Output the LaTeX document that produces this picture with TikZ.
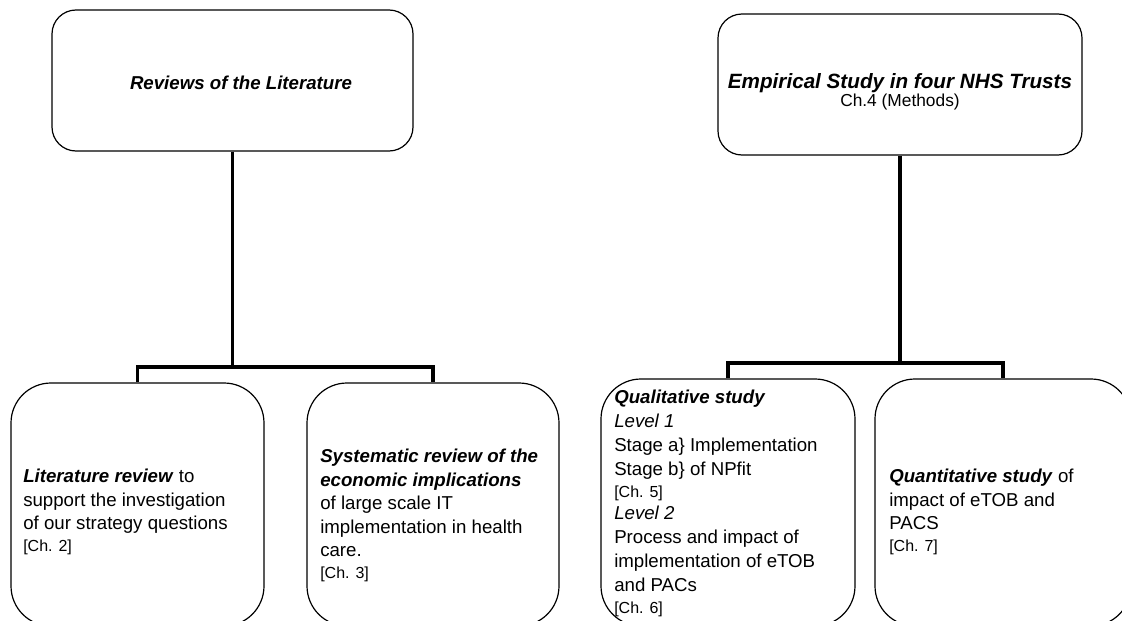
\documentclass[tikz,border=0pt]{standalone}
\usepackage{fontspec}
\setmainfont{Liberation Sans}
\usetikzlibrary{fit}
\newcommand{\bi}[1]{\textbf{\textit{#1}}}
\newcommand{\chf}{\fontsize{12}{16}\selectfont}
\begin{document}
\begin{tikzpicture}[x=0.75pt,y=-0.75pt,
  topbox/.style={draw,line width=0.9pt,rounded corners=18pt,inner sep=0pt},
  lowbox/.style={draw,line width=0.9pt,rounded corners=30pt,inner sep=0pt},
  conn/.style={line width=2.3pt},
  body/.style={inner sep=0pt,align=left,anchor=north west,font=\fontsize{14}{17.6}\selectfont}]
\useasboundingbox (0,0) rectangle (1122,621);
% top boxes
\node[topbox,fit={(52,10)(413,151)}] (tl) {};
\node[topbox,fit={(718,14)(1082,155)}] (tr) {};
% bottom boxes
\node[lowbox,fit={(11,383)(264,626)}] (b1) {};
\node[lowbox,fit={(307,383)(559,626)}] (b2) {};
\node[lowbox,fit={(601,379)(855,626)}] (b3) {};
\node[lowbox,fit={(875,379)(1131,626)}] (b4) {};
% junctions
\coordinate (jl) at (232.5,367);
\coordinate (jr) at (900,363);
\draw[conn] (tl.south) -- (jl);
\draw[conn] (b1.north) |- (jl) -| (b2.north);
\draw[conn] (tr.south) -- (jr);
\draw[conn] (b3.north) |- (jr) -| (b4.north);
% texts
\node[inner sep=0pt,font=\fontsize{14}{18}\selectfont] (tlt) at (241,83) {\bi{Reviews of the Literature}};
\node[inner sep=0pt,align=center,font=\fontsize{15.5}{13.5}\selectfont] (trt) at (900,92)
  {\bi{Empirical Study in four NHS Trusts}\\{\fontsize{13}{13.5}\selectfont Ch.4 (Methods)}};
\node[body] (t1) at (23,469) {\bi{Literature review} to\\support the investigation\\of our strategy questions\\[-1.5pt]{\chf [Ch. 2]}};
\node[body] (t2) at (320,449) {\bi{Systematic review of the}\\\bi{economic implications}\\of large scale IT\\implementation in health\\care.\\[-1.5pt]{\chf [Ch. 3]}};
\node[body,font=\fontsize{14}{18}\selectfont] (t3) at (614,390) {\bi{Qualitative study}\\\textit{Level 1}\\Stage a\} Implementation\\Stage b\} of NPfit\\[-1.5pt]{\chf [Ch. 5]}\\[-1.5pt]\textit{Level 2}\\Process and impact of\\implementation of eTOB\\and PACs\\[-1.5pt]{\chf [Ch. 6]}};
\node[body] (t4) at (889,469) {\bi{Quantitative study} of\\impact of eTOB and\\PACS\\[-1.5pt]{\chf [Ch. 7]}};
\end{tikzpicture}
\end{document}
